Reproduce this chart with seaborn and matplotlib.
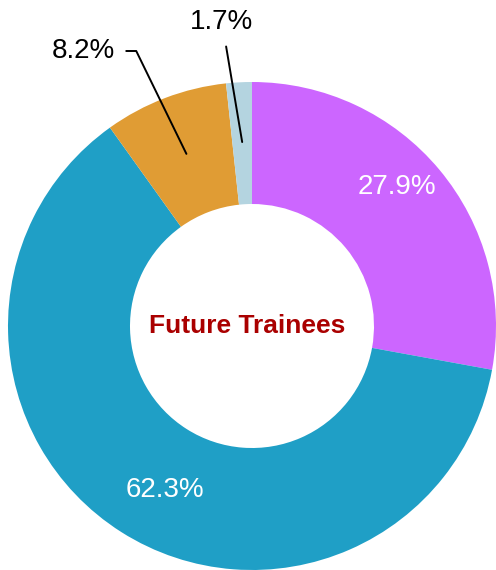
import matplotlib.pyplot as plt
import seaborn as sns
import numpy as np

# data
categories = ["Group A", "Group B", "Group C", "Group D"]
shares = [27.9, 62.3, 8.2, 1.7]
colors = ["#cc66ff", "#1f9fc6", "#e09c34", "#b4d4e0"]
center_title = "Future Trainees"

# layout (pixel space, y measured from top)
W, H = 496, 570
CX, CY, R = 252, 326, 244
HOLE = 0.5
# label placement: (text x, text y, inside?) per slice
LABEL_XY = [(397, 187, True), (165, 490, True), (83, 51, False), (222, 22, False)]
LEADER_R = 0.755
LEADER_ANGLE = [None, None, 116, None]

sns.set_theme(style="white")
plt.rcParams["font.family"] = ["Liberation Sans", "DejaVu Sans"]

fig = plt.figure(figsize=(W / 100, H / 100), dpi=100)
ax = fig.add_axes([0, 0, 1, 1])

wedges, _ = ax.pie(shares, colors=sns.color_palette(colors), startangle=90,
                   counterclock=False, center=(CX, H - CY), radius=R,
                   wedgeprops=dict(width=R * (1 - HOLE), linewidth=0))
ax.set_xlim(0, W)
ax.set_ylim(0, H)
ax.set_aspect("auto")
ax.axis("off")

ax.text(CX - 5, H - CY, center_title, ha="center", va="center",
        fontsize=19, fontweight="bold", color="#aa0000")

for w, val, (tx, ty, inside), ang in zip(wedges, shares, LABEL_XY, LEADER_ANGLE):
    label = f"{val:.1f}%"
    if inside:
        ax.text(tx, H - ty, label, ha="center", va="center",
                fontsize=20, color="white")
        continue
    mid = np.deg2rad((w.theta1 + w.theta2) / 2)
    end = (CX + LEADER_R * R * np.cos(mid), H - CY + LEADER_R * R * np.sin(mid))
    conn = f"angle,angleA=0,angleB={ang},rad=0" if ang else "arc3"
    ax.annotate(label, xy=end, xytext=(tx, H - ty), ha="center", va="center",
                fontsize=20, color="black",
                arrowprops=dict(arrowstyle="-", color="black", lw=1.4,
                                shrinkA=6, shrinkB=0, connectionstyle=conn))

plt.savefig("out.png", dpi=100)
plt.close()
